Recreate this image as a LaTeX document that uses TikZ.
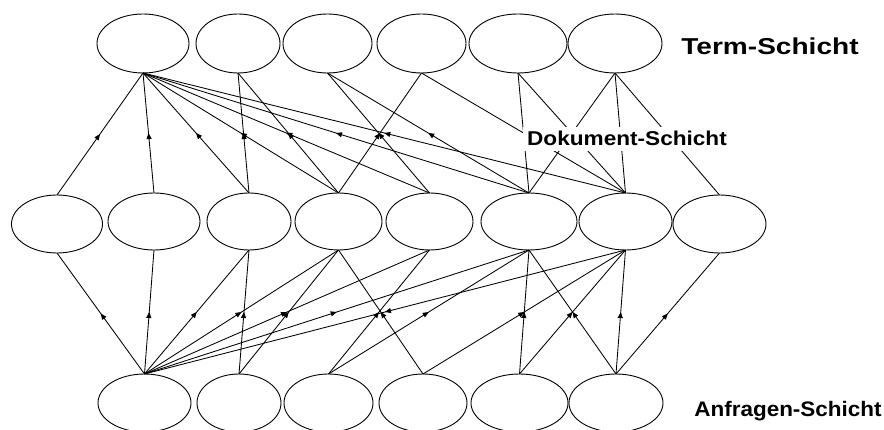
\documentclass[tikz,border=0pt]{standalone}
\usepackage{fontspec}
\setmainfont{Liberation Sans}
\usepackage{graphicx}
\usetikzlibrary{shapes.geometric,arrows.meta,decorations.markings}
\tikzset{
  ell/.style={draw=black, line width=0.9pt, ellipse, inner sep=0pt, outer sep=0pt},
  edge/.style={line width=0.85pt, draw=black},
  midarrow/.style={edge, postaction={decorate}, decoration={markings, mark=at position 0.5 with {\arrow{Triangle[length=6pt,width=5pt]}}}},
  midarrowrev/.style={edge, postaction={decorate}, decoration={markings, mark=at position 0.5 with {\arrowreversed{Triangle[length=6pt,width=5pt]}}}},
  layerlabel/.style={anchor=base, inner sep=0pt, font=\bfseries}
}
\begin{document}
\begin{tikzpicture}[x=1pt,y=-1pt]
\useasboundingbox (0,0) rectangle (884,430);
\fill[white] (0,0) rectangle (884,430);
% top row (terms)
\node[ell, minimum width=92pt, minimum height=59pt] (T1) at (143,43.5) {};
\node[ell, minimum width=84pt, minimum height=59pt] (T2) at (238,43.5) {};
\node[ell, minimum width=89pt, minimum height=59pt] (T3) at (327.5,43.5) {};
\node[ell, minimum width=89pt, minimum height=59pt] (T4) at (421.5,43.5) {};
\node[ell, minimum width=98pt, minimum height=59pt] (T5) at (518,43.5) {};
\node[ell, minimum width=94pt, minimum height=59pt] (T6) at (615,43.5) {};
% middle row (documents)
\node[ell, minimum width=91pt, minimum height=58pt] (M1) at (57,224) {};
\node[ell, minimum width=92pt, minimum height=57pt] (M2) at (154,221.5) {};
\node[ell, minimum width=84pt, minimum height=57pt] (M3) at (249,221.5) {};
\node[ell, minimum width=87pt, minimum height=57pt] (M4) at (338.5,221.5) {};
\node[ell, minimum width=87pt, minimum height=57pt] (M5) at (429.5,221.5) {};
\node[ell, minimum width=96pt, minimum height=57pt] (M6) at (529,221.5) {};
\node[ell, minimum width=93pt, minimum height=57pt] (M7) at (625.5,221.5) {};
\node[ell, minimum width=93pt, minimum height=58pt] (M8) at (719.5,224) {};
% bottom row (queries)
\node[ell, minimum width=93pt, minimum height=58pt] (B1) at (144.5,403) {};
\node[ell, minimum width=84pt, minimum height=58pt] (B2) at (239,403) {};
\node[ell, minimum width=89pt, minimum height=58pt] (B3) at (328.5,403) {};
\node[ell, minimum width=88pt, minimum height=58pt] (B4) at (423,403) {};
\node[ell, minimum width=97pt, minimum height=58pt] (B5) at (519.5,403) {};
\node[ell, minimum width=94pt, minimum height=58pt] (B6) at (616,403) {};
% upper edges (document -> term)
\foreach \m in {M1,M2,M3,M4,M5,M6,M7} {\draw[midarrow] (\m.north) -- (T1.south);}
\draw[midarrow] (M3.north) -- (T2.south);
\draw[midarrow] (M4.north) -- (T2.south);
\draw[midarrow] (M5.north) -- (T3.south);
\draw[midarrow] (M6.north) -- (T3.south);
\draw[midarrow] (M4.north) -- (T4.south);
\draw[edge] (M7.north) -- (T4.south);
\draw[edge] (M6.north) -- (T5.south);
\draw[edge] (M7.north) -- (T5.south);
\draw[edge] (M6.north) -- (T6.south);
\draw[edge] (M7.north) -- (T6.south);
\draw[edge] (M8.north) -- (T6.south);
% lower edges (query -> document)
\foreach \m in {M1,M2,M3,M4,M5,M6} {\draw[midarrow] (B1.north) -- (\m.south);}
\draw[midarrowrev] (B1.north) -- (M7.south);
\draw[midarrow] (B2.north) -- (M3.south);
\draw[midarrow] (B2.north) -- (M4.south);
\draw[midarrow] (B3.north) -- (M5.south);
\draw[midarrow] (B3.north) -- (M6.south);
\draw[midarrow] (B4.north) -- (M4.south);
\draw[midarrow] (B4.north) -- (M7.south);
\draw[midarrow] (B5.north) -- (M6.south);
\draw[midarrow] (B5.north) -- (M7.south);
\draw[midarrow] (B6.north) -- (M6.south);
\draw[midarrow] (B6.north) -- (M7.south);
\draw[midarrow] (B6.north) -- (M8.south);
% labels
\node[layerlabel] (lt) at (770,55) {\fontsize{23}{23}\selectfont\scalebox{1.22}[1]{Term-Schicht}};
\node[anchor=base, font=\bfseries, fill=white, inner xsep=4pt, inner ysep=5pt] (ld) at (627,146) {\fontsize{20}{20}\selectfont\scalebox{1.13}[1]{Dokument-Schicht}};
\node[layerlabel] (la) at (788,416.7) {\fontsize{21}{21}\selectfont\scalebox{1.07}[1]{Anfragen-Schicht}};
\end{tikzpicture}
\end{document}
